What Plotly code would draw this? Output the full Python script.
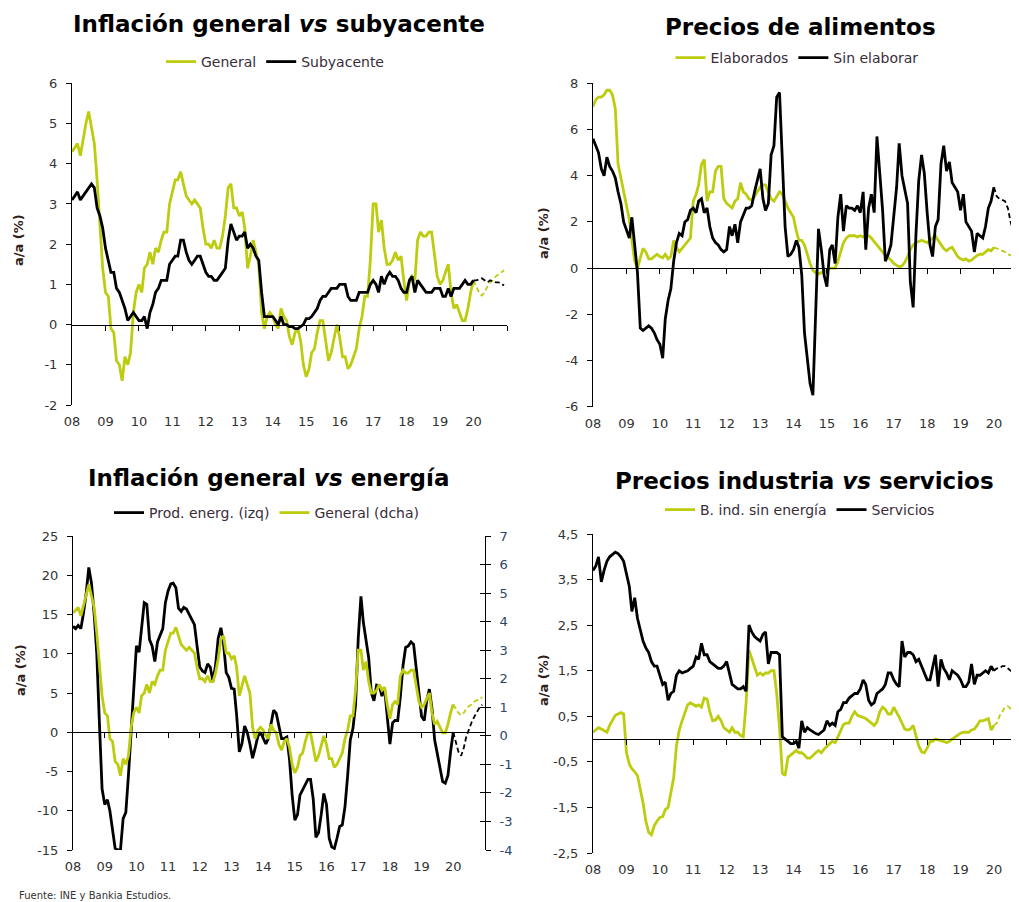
import plotly.graph_objects as go
import pandas as pd

# ---------------- DATA (monthly, Jan 2008 - Jan 2020 actual; Feb-Dec 2020 forecast) -------------
YEAR_LABELS = ["08", "09", "10", "11", "12", "13", "14", "15", "16", "17", "18", "19", "20"]

GENERAL = [
    4.3, 4.4, 4.5, 4.2, 4.6, 5.0, 5.3, 4.9, 4.5, 3.6, 2.4, 1.4,
    0.8, 0.7, -0.1, -0.2, -0.9, -1.0, -1.4, -0.8, -1.0, -0.7, 0.3, 0.8,
    1.0, 0.8, 1.4, 1.5, 1.8, 1.5, 1.9, 1.8, 2.1, 2.3, 2.3, 3.0,
    3.3, 3.6, 3.6, 3.8, 3.5, 3.2, 3.1, 3.0, 3.1, 3.0, 2.9, 2.4,
    2.0, 2.0, 1.9, 2.1, 1.9, 1.9, 2.2, 2.7, 3.4, 3.5, 2.9, 2.9,
    2.7, 2.8, 2.4, 1.4, 1.7, 2.1, 1.8, 1.5, 0.3, -0.1, 0.2, 0.3,
    0.2, 0.0, -0.1, 0.4, 0.2, 0.1, -0.3, -0.5, -0.2, -0.1, -0.4, -1.0,
    -1.3, -1.1, -0.7, -0.6, -0.2, 0.1, 0.1, -0.4, -0.9, -0.7, -0.3, 0.0,
    -0.3, -0.8, -0.8, -1.1, -1.0, -0.8, -0.6, -0.1, 0.2, 0.7, 0.7, 1.6,
    3.0, 3.0, 2.3, 2.6, 1.9, 1.5, 1.5, 1.6, 1.8, 1.6, 1.7, 1.1,
    0.6, 1.1, 1.2, 1.1, 2.1, 2.3, 2.2, 2.2, 2.3, 2.3, 1.7, 1.2,
    1.0, 1.1, 1.3, 1.5, 0.8, 0.4, 0.5, 0.3, 0.1, 0.1, 0.4, 0.8,
    1.1,
]
GENERAL_FC = [0.95, 0.8, 0.72, 0.8, 0.95, 1.05, 1.1, 1.2, 1.25, 1.3, 1.35]

SUBYACENTE = [
    3.1, 3.2, 3.3, 3.1, 3.2, 3.3, 3.4, 3.5, 3.4, 2.9, 2.7, 2.4,
    1.9, 1.6, 1.3, 1.3, 0.9, 0.8, 0.6, 0.4, 0.1, 0.2, 0.3, 0.2,
    0.1, 0.1, 0.2, -0.1, 0.3, 0.5, 0.8, 0.9, 1.1, 1.1, 1.1, 1.5,
    1.6, 1.7, 1.7, 2.1, 2.1, 1.8, 1.6, 1.5, 1.6, 1.7, 1.7, 1.5,
    1.3, 1.2, 1.2, 1.1, 1.1, 1.2, 1.3, 1.4, 2.1, 2.5, 2.3, 2.1,
    2.2, 2.2, 2.3, 1.9, 2.0, 1.9, 1.7, 1.6, 0.8, 0.2, 0.2, 0.2,
    0.2, 0.1, 0.0, 0.2, 0.0, 0.0, -0.05, -0.05, -0.1, -0.1, -0.05, 0.0,
    0.15, 0.15, 0.2, 0.3, 0.4, 0.6, 0.7, 0.7, 0.8, 0.9, 0.9, 0.9,
    1.0, 1.0, 1.0, 0.7, 0.6, 0.6, 0.6, 0.8, 0.8, 0.8, 0.8, 1.0,
    1.1, 1.0, 0.8, 1.2, 1.0, 1.2, 1.3, 1.2, 1.2, 1.1, 0.9, 0.8,
    0.8, 1.1, 1.2, 0.8, 1.1, 1.0, 0.9, 0.8, 0.8, 0.8, 0.9, 0.9,
    0.9, 0.7, 0.7, 0.9, 0.7, 0.9, 0.9, 0.9, 1.0, 1.1, 1.0, 1.0,
    1.1,
]
SUBYACENTE_FC = [1.1, 1.12, 1.15, 1.1, 1.05, 1.1, 1.08, 1.05, 1.05, 1.0, 0.98]

ELABORADOS = [
    7.0, 7.3, 7.4, 7.4, 7.5, 7.7, 7.7, 7.5, 6.9, 4.5, 3.9, 3.3,
    2.8, 2.1, 1.2, 0.3, 0.0, 0.5, 0.85, 0.7, 0.4, 0.4, 0.5, 0.6,
    0.5, 0.45, 0.6, 0.4, 0.5, 1.2, 0.9, 0.7, 0.85, 1.0, 1.2, 1.3,
    2.9, 3.2, 3.6, 4.5, 4.7, 2.9, 3.3, 3.3, 4.2, 4.4, 4.4, 3.0,
    2.8, 2.7, 2.6, 2.9, 3.0, 3.7, 3.3, 3.2, 3.0, 2.95, 3.1, 3.3,
    3.5, 3.6, 3.6, 3.3, 3.0, 2.9, 3.1, 3.3, 3.2, 2.9, 2.6, 2.4,
    2.2, 1.6, 1.2, 1.2, 1.0, 0.6, 0.2, -0.1, -0.2, -0.25, -0.2, -0.15,
    -0.1, 0.0, 0.0, 0.0, 0.3, 0.7, 1.1, 1.3, 1.4, 1.4, 1.4, 1.35,
    1.4, 1.35, 1.4, 1.4, 1.3, 1.15, 1.0, 0.85, 0.7, 0.55, 0.45, 0.35,
    0.2, 0.1, 0.05, 0.1, 0.25, 0.5, 0.8, 1.0, 1.1, 1.15, 1.2, 1.15,
    1.1, 1.2, 1.3, 1.4, 1.2, 1.0, 0.85, 0.75, 0.85, 0.9, 0.7, 0.5,
    0.4, 0.35, 0.4, 0.3, 0.35, 0.45, 0.55, 0.6, 0.6, 0.7, 0.8, 0.75,
    0.9,
]
ELABORADOS_FC = [0.85, 0.8, 0.75, 0.7, 0.6, 0.55, 0.5, 0.75, 0.8, 0.8, 0.8]

SIN_ELABORAR = [
    5.6, 5.3, 5.0, 4.3, 4.0, 4.8, 4.4, 4.2, 3.9, 3.3, 2.8, 2.0,
    1.6, 1.3, 2.2, 0.9, -0.2, -2.6, -2.7, -2.6, -2.5, -2.6, -2.8, -3.1,
    -3.3, -3.9, -2.2, -1.4, -0.9, 0.3, 1.1, 1.5, 1.4, 2.0, 2.1, 2.5,
    2.6, 2.4, 2.9, 3.0, 2.4, 2.6, 1.8, 1.3, 1.1, 1.0, 0.8, 0.7,
    0.8, 1.8, 1.4, 1.9, 1.1, 2.0, 2.3, 2.6, 2.6, 2.7, 3.3, 3.8,
    4.3, 3.0, 2.5, 2.8, 4.9, 5.3, 7.4, 7.6, 5.0, 1.8, 0.5, 0.6,
    0.8, 1.2, 0.9, -0.3, -2.8, -3.8, -5.0, -5.5, -1.5, 1.7, 0.8, -0.3,
    -0.8, 0.8, 1.0, 0.2, 2.2, 3.2, 1.6, 2.7, 2.6, 2.6, 2.5, 2.7,
    2.4, 3.3, 0.8, 2.6, 3.2, 2.4, 5.7, 4.0, 2.5, 0.3, 0.6, 1.0,
    2.4, 3.5, 5.4, 4.0, 3.4, 2.8, -0.6, -1.7, 1.5, 3.8, 4.9, 4.1,
    2.4, 1.0, 0.5, 1.8, 2.1, 4.5, 5.3, 4.2, 4.6, 3.7, 3.5, 3.3,
    2.5, 3.2, 2.0, 1.8, 1.6, 0.7, 1.5, 1.4, 1.3, 1.8, 2.6, 2.9,
    3.5,
]
SIN_ELABORAR_FC = [3.1, 3.0, 2.95, 2.9, 2.6, 2.0, 1.6, 1.2, 1.0, 0.9, 0.9]

ENERGIA = [
    13.5, 13.2, 13.6, 13.2, 15.2, 17.7, 21.0, 19.0, 15.0, 10.0, 1.0, -7.2,
    -9.2, -8.6, -10.0, -12.3, -14.8, -15.0, -15.0, -11.0, -10.2, -5.5, 0.5, 5.5,
    11.0, 10.2, 13.5, 16.5, 16.3, 11.8, 11.0, 9.0, 11.5, 12.3, 13.2, 16.5,
    18.0, 18.9, 19.0, 18.4, 15.8, 15.4, 15.9, 15.7, 15.0, 14.3, 13.7, 11.0,
    8.3, 7.8, 7.6, 8.7, 8.3, 6.5, 8.5, 12.0, 13.3, 11.3, 7.6, 7.0,
    5.6, 5.5, 2.2, -2.5, -1.5, 0.8, 0.0, -1.5, -3.3, -2.0, -0.5, 0.0,
    -0.8, -1.5, -0.8, 1.2, 2.8, 2.4, 0.8, -0.8, -0.8, -0.6, -3.5, -8.0,
    -11.2, -10.5, -8.0, -7.3, -6.8, -6.0, -6.0, -8.5, -13.4, -12.8, -10.5, -7.8,
    -9.2, -13.5, -14.6, -14.8, -13.5, -12.0, -11.8, -9.5, -5.5, -1.0, 0.5, 3.5,
    12.0, 17.3, 14.0, 11.9, 9.5, 5.0, 4.0, 6.0, 5.9, 4.6, 5.6, 2.0,
    -1.5, 1.2, 1.5, 1.5, 4.5, 8.5, 10.8, 11.0, 11.5, 11.2, 8.0, 4.5,
    2.0, 1.5, 4.0, 5.5, 3.0, -1.0, -2.6, -4.5, -6.3, -6.5, -5.5, -2.5,
    0.0,
]
ENERGIA_FC = [-1.5, -2.5, -3.0, -2.0, -0.5, 0.5, 1.3, 2.0, 2.6, 3.2, 3.5]

BIND_SIN_ENERGIA = [
    0.15, 0.2, 0.25, 0.22, 0.18, 0.15, 0.3, 0.4, 0.52, 0.55, 0.58, 0.55,
    -0.3, -0.55, -0.65, -0.72, -0.8, -1.1, -1.4, -1.8, -2.05, -2.1, -1.9, -1.8,
    -1.72, -1.7, -1.55, -1.5, -1.2, -0.85, -0.15, 0.2, 0.4, 0.6, 0.75, 0.8,
    0.75, 0.72, 0.75, 0.7, 0.9, 0.88, 0.6, 0.4, 0.42, 0.5, 0.4, 0.25,
    0.2, 0.15, 0.25, 0.15, 0.15, 0.08, 0.05, 0.8, 1.95, 1.75, 1.55, 1.4,
    1.45, 1.4, 1.45, 1.45, 1.5, 1.5, 1.0, 0.25, -0.75, -0.8, -0.4, -0.35,
    -0.3, -0.25, -0.3, -0.3, -0.35, -0.42, -0.42, -0.35, -0.3, -0.25, -0.3, -0.22,
    -0.15, -0.1, -0.05, -0.08, 0.05, 0.2, 0.32, 0.35, 0.35, 0.5, 0.6, 0.52,
    0.5, 0.48, 0.45, 0.4, 0.35, 0.3, 0.38, 0.6, 0.7, 0.65, 0.55, 0.55,
    0.7, 0.6, 0.48, 0.35, 0.22, 0.2, 0.22, 0.3, 0.08, -0.15, -0.28, -0.3,
    -0.2, -0.05, -0.05, 0.0, -0.02, -0.03, -0.05, -0.08, -0.05, 0.0, 0.05, 0.1,
    0.13, 0.15, 0.15, 0.15, 0.2, 0.22, 0.3, 0.4, 0.4, 0.42, 0.45, 0.2,
    0.3,
]
BIND_SIN_ENERGIA_FC = [0.35, 0.5, 0.6, 0.7, 0.72, 0.68, 0.62, 0.55, 0.5, 0.5, 0.5]

SERVICIOS = [
    3.7, 3.8, 4.0, 3.45, 3.7, 3.9, 4.0, 4.05, 4.1, 4.07, 4.0, 3.9,
    3.65, 3.35, 2.8, 3.1, 2.65, 2.4, 2.15, 2.0, 1.9, 1.7, 1.6, 1.6,
    1.4, 1.2, 1.25, 0.85, 1.0, 1.05, 1.4, 1.5, 1.45, 1.47, 1.5, 1.55,
    1.6, 1.8, 1.75, 2.1, 1.85, 1.85, 1.7, 1.65, 1.6, 1.55, 1.55, 1.6,
    1.7, 1.4, 1.2, 1.15, 1.1, 1.1, 1.15, 1.05, 2.5, 2.35, 2.25, 2.2,
    2.15, 2.3, 2.35, 1.65, 1.9, 1.9, 1.9, 1.85, 0.05, 0.0, -0.05, -0.1,
    -0.1, -0.05, -0.2, 0.4, 0.15, 0.25, 0.2, 0.15, 0.12, 0.1, 0.15, 0.2,
    0.4, 0.3, 0.35, 0.3, 0.6, 0.65, 0.8, 0.8, 0.9, 0.95, 1.0, 1.0,
    1.1, 1.3, 1.2, 0.85, 0.75, 0.8, 1.0, 1.05, 1.1, 1.2, 1.45, 1.45,
    1.3, 1.2, 1.15, 2.15, 1.8, 1.9, 1.9, 1.85, 1.7, 1.75, 1.6, 1.45,
    1.3, 1.3, 1.6, 1.85, 1.15, 1.75, 1.55, 1.45, 1.3, 1.5, 1.45, 1.4,
    1.3, 1.15, 1.15, 1.25, 1.65, 1.2, 1.4, 1.4, 1.45, 1.5, 1.45, 1.6,
    1.5,
]
SERVICIOS_FC = [1.55, 1.55, 1.6, 1.6, 1.55, 1.5, 1.45, 1.4, 1.4, 1.4, 1.4]

P1_YTICKS = [-2, -1, 0, 1, 2, 3, 4, 5, 6]
P2_YTICKS = [-6, -4, -2, 0, 2, 4, 6, 8]
P3_YTICKS_L = [-15, -10, -5, 0, 5, 10, 15, 20, 25]
P3_YTICKS_R = [-4, -3, -2, -1, 0, 1, 2, 3, 4, 5, 6, 7]
P4_YTICKS = [-2.5, -1.5, -0.5, 0.5, 1.5, 2.5, 3.5, 4.5]
P4_YTICKTEXT = ["-2,5", "-1,5", "-0,5", "0,5", "1,5", "2,5", "3,5", "4,5"]

# ---------------- STYLE / LAYOUT ----------------
VIEW_W, VIEW_H = 1019, 902
OFF = 8  # default page body margin
W, H = VIEW_W - OFF, VIEW_H - OFF
GREEN = "#BDCC0E"
BLACK = "#000000"
FONT = "DejaVu Sans, sans-serif"
TICKFONT = dict(family=FONT, size=13, color="#333333")
LW = 2.8
DLW = 1.8
DASH = "5px,3px"

months = pd.date_range("2008-01-01", periods=len(GENERAL), freq="MS")
fc_months = pd.date_range(months[-1], periods=len(GENERAL_FC) + 1, freq="MS")
year_ticks = pd.date_range("2008-01-01", periods=len(YEAR_LABELS), freq="YS")
zero_ticks = pd.date_range("2009-01-01", periods=len(YEAR_LABELS), freq="YS")


def px(xp):
    return (xp - OFF) / W


def py(yp):
    return 1 - (yp - OFF) / H


def xdom(a, b):
    return [px(a), min(px(b), 1.0)]


def ydom(top, bottom):
    return [py(bottom), py(top)]


fig = go.Figure()


def line(x, y, color, name, xa, ya, legend, dashed=False, show=True):
    fig.add_trace(go.Scatter(
        x=x, y=y, mode="lines", name=name,
        line=dict(color=color, width=DLW if dashed else LW, dash=DASH if dashed else "solid"),
        xaxis=xa, yaxis=ya, legend=legend, showlegend=show and not dashed,
        hoverinfo="skip",
    ))


def series(actual, fc, color, name, xa, ya, legend):
    line(months, actual, color, name, xa, ya, legend)
    line(fc_months, [actual[-1]] + fc, color, name, xa, ya, legend, dashed=True)


# Panel 1
series(GENERAL, GENERAL_FC, GREEN, "General", "x", "y", "legend")
series(SUBYACENTE, SUBYACENTE_FC, BLACK, "Subyacente", "x", "y", "legend")
# Panel 2
series(ELABORADOS, ELABORADOS_FC, GREEN, "Elaborados", "x2", "y2", "legend2")
series(SIN_ELABORAR, SIN_ELABORAR_FC, BLACK, "Sin elaborar", "x2", "y2", "legend2")
# Panel 3
series(ENERGIA, ENERGIA_FC, BLACK, "Prod. energ. (izq)", "x3", "y3", "legend3")
series(GENERAL, GENERAL_FC, GREEN, "General (dcha)", "x3", "y5", "legend3")
# Panel 4
series(BIND_SIN_ENERGIA, BIND_SIN_ENERGIA_FC, GREEN, "B. ind. sin energía", "x4", "y4", "legend4")
series(SERVICIOS, SERVICIOS_FC, BLACK, "Servicios", "x4", "y4", "legend4")

# empty traces that activate the decorative axes (zero lines, inner right ticks)
for xa, ya in [("x5", "y"), ("x6", "y2"), ("x7", "y3"), ("x8", "y4"), ("x3", "y6")]:
    fig.add_trace(go.Scatter(x=[months[0]], y=[None], xaxis=xa, yaxis=ya,
                             showlegend=False, hoverinfo="skip", mode="lines"))

panels = [
    dict(x=1, y=1, z=5, xd=xdom(72, 507), yd=ydom(83.3, 405), yr=[-2, 6],
         yt=P1_YTICKS, ytt=[str(v) for v in P1_YTICKS], xend="2021-01-01"),
    dict(x=2, y=2, z=6, xd=xdom(593, 1019), yd=ydom(83.3, 406.7), yr=[-6, 8],
         yt=P2_YTICKS, ytt=[str(v) for v in P2_YTICKS], xend="2020-10-01"),
    dict(x=3, y=3, z=7, xd=xdom(73, 485), yd=ydom(536, 850), yr=[-15, 25],
         yt=P3_YTICKS_L, ytt=[str(v) for v in P3_YTICKS_L], xend="2021-01-01"),
    dict(x=4, y=4, z=8, xd=xdom(593, 1019), yd=ydom(534, 853), yr=[-2.5, 4.5],
         yt=P4_YTICKS, ytt=P4_YTICKTEXT, xend="2020-10-01"),
]

layout = dict(
    width=W, height=H, autosize=False,
    margin=dict(l=0, r=0, t=0, b=0, pad=0, autoexpand=False),
    paper_bgcolor="white", plot_bgcolor="rgba(0,0,0,0)",
    font=dict(family=FONT, color="#333333"),
    hovermode=False,
)

for p in panels:
    xn = "xaxis" if p["x"] == 1 else f"xaxis{p['x']}"
    yn = "yaxis" if p["y"] == 1 else f"yaxis{p['y']}"
    yref = "y" if p["y"] == 1 else f"y{p['y']}"
    xref = "x" if p["x"] == 1 else f"x{p['x']}"
    layout[xn] = dict(
        domain=p["xd"], anchor=yref, range=["2008-01-01", p["xend"]],
        tickvals=list(year_ticks), ticktext=YEAR_LABELS,
        showline=False, ticks="", showgrid=False, zeroline=False,
        tickfont=TICKFONT, ticklabelstandoff=7, fixedrange=True,
    )
    layout[yn] = dict(
        domain=p["yd"], anchor=xref, range=p["yr"],
        tickvals=p["yt"], ticktext=p["ytt"],
        showline=True, linecolor="black", linewidth=1,
        ticks="outside", ticklen=5, tickcolor="black",
        showgrid=False, zeroline=False, tickfont=TICKFONT,
        ticklabelstandoff=6, fixedrange=True,
    )
    y0, y1 = p["yd"]
    lo, hi = p["yr"]
    zpos = y0 + (0 - lo) / (hi - lo) * (y1 - y0)
    layout[f"xaxis{p['z']}"] = dict(
        overlaying=xref, anchor="free", position=zpos, side="bottom",
        range=["2008-01-01", p["xend"]], tickvals=list(zero_ticks),
        showticklabels=False, showline=True, linecolor="black", linewidth=1,
        ticks="outside", ticklen=5, tickcolor="black",
        showgrid=False, zeroline=False, fixedrange=True,
    )

layout["yaxis5"] = dict(
    overlaying="y3", side="right", anchor="x3", range=[-4, 7],
    tickvals=P3_YTICKS_R, ticktext=[str(v) for v in P3_YTICKS_R],
    showline=True, linecolor="black", linewidth=1,
    ticks="outside", ticklen=5, tickcolor="black",
    showgrid=False, zeroline=False,
    tickfont=dict(family=FONT, size=13, color="#2B4468"),
    ticklabelstandoff=6, fixedrange=True,
)
layout["yaxis6"] = dict(
    overlaying="y3", side="right", anchor="x3", range=[-4, 7],
    tickvals=P3_YTICKS_R, showticklabels=False, showline=False,
    ticks="inside", ticklen=5, tickcolor="black",
    showgrid=False, zeroline=False, fixedrange=True,
)

LEG = dict(orientation="h", xanchor="center", yanchor="middle",
           bgcolor="rgba(0,0,0,0)", itemwidth=30, tracegroupgap=0,
           font=dict(family=FONT, size=14, color="#3a2d3a"))
layout["legend"] = dict(LEG, x=px(275), y=py(62))
layout["legend2"] = dict(LEG, x=px(797), y=py(58))
layout["legend3"] = dict(LEG, x=px(267), y=py(513))
layout["legend4"] = dict(LEG, x=px(800), y=py(510))

fig.update_layout(**layout)

TITLES = [
    ("<b>Inflación general <i>vs</i> subyacente</b>", 279, 24),
    ("<b>Precios de alimentos</b>", 800, 27),
    ("<b>Inflación general <i>vs</i> energía</b>", 268, 478),
    ("<b>Precios industria <i>vs</i> servicios</b>", 804, 481),
]
for text, xp, yp in TITLES:
    fig.add_annotation(text=text, x=px(xp), y=py(yp), xref="paper", yref="paper",
                       showarrow=False, xanchor="center", yanchor="middle",
                       font=dict(family=FONT, size=23, color="black"))

for xp, yp in [(19, 240), (543, 233), (20, 670), (543, 680)]:
    fig.add_annotation(text="<b>a/a (%)</b>", x=px(xp), y=py(yp), xref="paper", yref="paper",
                       showarrow=False, textangle=-90, xanchor="center", yanchor="middle",
                       font=dict(family=FONT, size=13, color="#2e2016"))

fig.add_annotation(text="Fuente: INE y Bankia Estudios.", x=px(17), y=py(895),
                   xref="paper", yref="paper", showarrow=False, xanchor="left", yanchor="middle",
                   font=dict(family=FONT, size=10, color="#333333"))

fig.write_html("out.html")
